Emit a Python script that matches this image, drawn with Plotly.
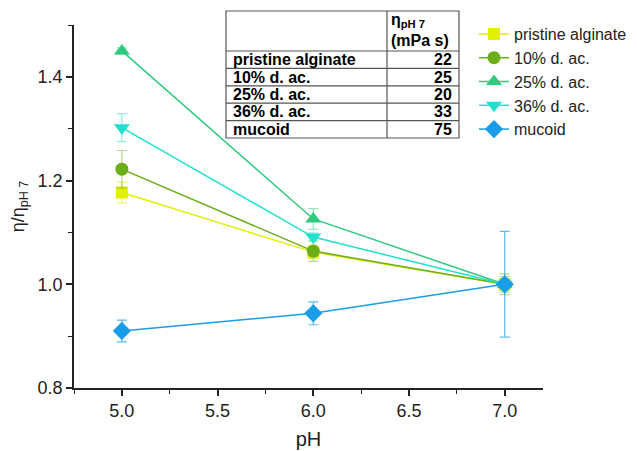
import plotly.graph_objects as go

ph = [5.0, 6.0, 7.0]
series_names = ["pristine alginate", "10% d. ac.", "25% d. ac.", "36% d. ac.", "mucoid"]
pristine = [1.177, 1.062, 1.0]
pristine_err = [0.02, 0.012, 0.012]
dac10 = [1.222, 1.064, 1.0]
dac10_err = [0.036, 0.02, 0.02]
dac25 = [1.450, 1.126, 1.0]
dac25_err = [0.006, 0.02, 0.015]
dac36 = [1.302, 1.091, 1.0]
dac36_err = [0.027, 0.008, 0.01]
mucoid = [0.910, 0.944, 1.0]
mucoid_err = [0.021, 0.022, 0.102]

table_rows = ["pristine alginate", "10% d. ac.", "25% d. ac.", "36% d. ac.", "mucoid"]
table_eta = [22, 25, 20, 33, 75]

colors = ["#e0f000", "#6cae1a", "#2fca7e", "#22e0cf", "#1a9de8"]
err_colors = ["rgba(224,240,0,0.6)", "rgba(108,174,26,0.5)", "rgba(47,202,126,0.5)",
              "rgba(34,224,207,0.5)", "rgba(26,157,232,0.7)"]
symbols = ["square", "circle", "triangle-up", "triangle-down", "diamond"]
msizes = [12, 13, 14, 14, 14]

W, H = 637, 451
ML, MR, MT, MB = 74, 94, 25, 63
PW, PH = W - ML - MR, H - MT - MB


def px(x):
    return (x - ML) / PW


def py(y):
    return (H - MB - y) / PH


fig = go.Figure()
for name, vals, errs, c, ec, s, ms in zip(series_names, [pristine, dac10, dac25, dac36, mucoid],
                                          [pristine_err, dac10_err, dac25_err, dac36_err, mucoid_err],
                                          colors, err_colors, symbols, msizes):
    fig.add_trace(go.Scatter(
        x=ph, y=vals, name=name, mode="lines+markers",
        line=dict(color=c, width=1.5),
        marker=dict(symbol=s, size=ms, color=c),
        error_y=dict(type="data", array=errs, visible=True, color=ec, thickness=1.2, width=5),
    ))

# Table drawn with shapes + annotations
tx0, tx1, tcol = 226, 459, 387
ty0, thead, ty1 = 11, 51, 138
rh = (ty1 - thead) / len(table_rows)
line = dict(color="#555555", width=1.2)
fig.add_shape(type="rect", xref="paper", yref="paper", x0=px(tx0), x1=px(tx1), y0=py(ty0), y1=py(ty1),
              line=line, fillcolor="white", layer="above")
fig.add_shape(type="line", xref="paper", yref="paper", x0=px(tcol), x1=px(tcol), y0=py(ty0), y1=py(ty1), line=line)
for i in range(len(table_rows)):
    yy = thead + i * rh
    fig.add_shape(type="line", xref="paper", yref="paper", x0=px(tx0), x1=px(tx1), y0=py(yy), y1=py(yy), line=line)
    fig.add_annotation(xref="paper", yref="paper", x=px(tx0 + 5), y=py(yy + rh / 2), text="<b>%s</b>" % table_rows[i],
                       showarrow=False, xanchor="left", yanchor="middle", font=dict(size=16, color="black"))
    fig.add_annotation(xref="paper", yref="paper", x=px(tx1 - 5), y=py(yy + rh / 2), text="<b>%d</b>" % table_eta[i],
                       showarrow=False, xanchor="right", yanchor="middle", font=dict(size=16, color="black"))
fig.add_annotation(xref="paper", yref="paper", x=px(tcol + 2), y=py(thead), text="<b>η<sub>pH 7</sub><br>(mPa s)</b>",
                   showarrow=False, xanchor="left", yanchor="bottom", align="left", font=dict(size=16, color="black"))

fig.update_layout(
    width=W, height=H,
    margin=dict(l=ML, r=MR, t=MT, b=MB, autoexpand=False),
    plot_bgcolor="white", paper_bgcolor="white",
    font=dict(family="Liberation Sans, Arial", color="#222222"),
    showlegend=True,
    legend=dict(x=px(474), y=py(17), xanchor="left", yanchor="top", font=dict(size=16, color="#222222"),
                bgcolor="rgba(0,0,0,0)", tracegroupgap=0),
    xaxis=dict(range=[4.75, 7.2], tickvals=[5.0, 5.5, 6.0, 6.5, 7.0], ticktext=["5.0", "5.5", "6.0", "6.5", "7.0"],
               showgrid=False, zeroline=False, showline=True, linecolor="#222222", linewidth=1.5,
               ticks="outside", ticklen=6, tickwidth=1.5, tickcolor="#222222", tickfont=dict(size=18),
               minor=dict(ticks="outside", ticklen=4, dtick=0.25, tickcolor="#222222", tickwidth=1.2),
               title=dict(text="pH", font=dict(size=20), standoff=12)),
    yaxis=dict(range=[0.8, 1.5], tickvals=[0.8, 1.0, 1.2, 1.4], ticktext=["0.8", "1.0", "1.2", "1.4"],
               showgrid=False, zeroline=False, showline=True, linecolor="#222222", linewidth=1.5,
               ticks="outside", ticklen=6, tickwidth=1.5, tickcolor="#222222", tickfont=dict(size=18),
               minor=dict(ticks="outside", ticklen=4, dtick=0.1, tickcolor="#222222", tickwidth=1.2),
               title=dict(text="η/η<sub>pH 7</sub>", font=dict(size=18), standoff=8)),
)

fig.write_html("out.html")
